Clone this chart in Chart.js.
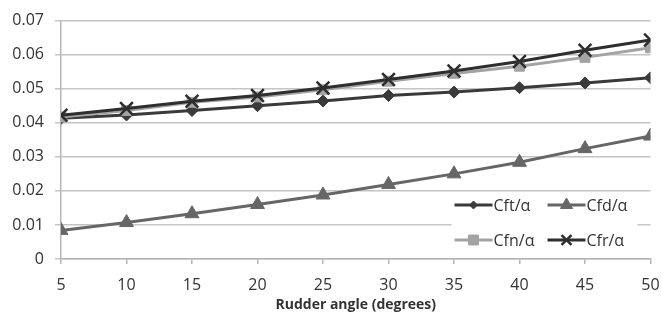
<!DOCTYPE html>
<html>
<head>
<meta charset="utf-8">
<script src="https://cdn.jsdelivr.net/npm/chart.js@4.4.1/dist/chart.umd.min.js"></script>
<style>
    html, body { margin: 0; padding: 0; background: #fff; }
    #wrap { width: 662px; height: 329px; }
</style>
</head>
<body>
<div id="wrap"><canvas id="rudderChart"></canvas></div>
<script>
// Rudder angle (degrees)
const angles = [5, 10, 15, 20, 25, 30, 35, 40, 45, 50];

// Force coefficients per unit angle
const cft = [0.0413, 0.0423, 0.0436, 0.0450, 0.0464, 0.0480, 0.0490, 0.0503, 0.0517, 0.0532];
const cfd = [0.0084, 0.0107, 0.0133, 0.0160, 0.0188, 0.0219, 0.0250, 0.0284, 0.0324, 0.0361];
const cfn = [0.0417, 0.0436, 0.0460, 0.0476, 0.0497, 0.0522, 0.0545, 0.0566, 0.0592, 0.0620];
const cfr = [0.0422, 0.0442, 0.0463, 0.0480, 0.0502, 0.0527, 0.0552, 0.0580, 0.0613, 0.0643];

const seriesLabels = ['Cft/\u03b1', 'Cfd/\u03b1', 'Cfn/\u03b1', 'Cfr/\u03b1'];

const FONT = '"Open Sans", "DejaVu Sans", sans-serif';

function toPoints(values) {
    return angles.map((a, i) => ({ x: a, y: values[i] }));
}

// Legend drawn inside the plot, bottom right, 2 x 2
const innerLegend = {
    id: 'innerLegend',
    afterDraw(chart) {
        const { ctx, chartArea } = chart;
        const boxX = chartArea.right - 199;
        const boxY = chartArea.bottom - 67;
        ctx.save();
        ctx.fillStyle = '#ffffff';
        ctx.fillRect(boxX, boxY, 186, 64);

        const cols = [3, 96];
        const rows = [13, 48];
        ctx.textBaseline = 'middle';
        ctx.textAlign = 'left';

        chart.data.datasets.forEach((ds, i) => {
            const x = boxX + cols[i % 2];
            const y = boxY + rows[Math.floor(i / 2)];
            ctx.strokeStyle = ds.borderColor;
            ctx.fillStyle = ds.borderColor;
            ctx.lineWidth = ds.borderWidth;
            ctx.beginPath();
            ctx.moveTo(x, y);
            ctx.lineTo(x + 38, y);
            ctx.stroke();
            ctx.lineWidth = ds.pointBorderWidth;
            Chart.helpers.drawPoint(ctx, {
                pointStyle: ds.pointStyle,
                radius: ds.legendRadius,
                borderWidth: ds.pointBorderWidth
            }, x + 19, y);
            ctx.font = '16px ' + FONT;
            ctx.fillStyle = '#333333';
            ctx.fillText(ds.label, x + 39, y + 1);
        });
        ctx.restore();
    }
};

function makeSet(label, values, color, style, radius, legendRadius, order) {
    return {
        label: label,
        data: toPoints(values),
        borderColor: color,
        backgroundColor: color,
        pointBackgroundColor: color,
        pointBorderColor: color,
        borderWidth: 3,
        pointStyle: style,
        pointRadius: radius,
        pointBorderWidth: style === 'crossRot' ? 2.5 : 1,
        legendRadius: legendRadius,
        tension: 0,
        order: order
    };
}

const ctx = document.getElementById('rudderChart').getContext('2d');
const rudderChart = new Chart(ctx, {
    type: 'line',
    data: {
        datasets: [
            makeSet(seriesLabels[0], cft, '#3a3a3a', 'rectRot', 6, 4, 3),
            makeSet(seriesLabels[1], cfd, '#666666', 'triangle', 8, 7, 2),
            makeSet(seriesLabels[2], cfn, '#a3a3a3', 'rect', 7, 7, 1),
            makeSet(seriesLabels[3], cfr, '#2e2e2e', 'crossRot', 9, 7, 0)
        ]
    },
    options: {
        responsive: true,
        maintainAspectRatio: false,
        animation: false,
        layout: {
            padding: { top: 15, right: 0, left: 0, bottom: 0 }
        },
        plugins: {
            legend: { display: false },
            tooltip: { enabled: false }
        },
        scales: {
            x: {
                type: 'linear',
                min: 5,
                max: 50,
                afterFit(scale) {
                    scale.height = 70;
                    scale.paddingRight = 11;
                },
                grid: {
                    drawOnChartArea: false,
                    drawTicks: true,
                    tickLength: 5,
                    color: '#b5b5b5',
                    lineWidth: 1.5
                },
                border: { color: '#b5b5b5', width: 1.5 },
                ticks: {
                    stepSize: 5,
                    padding: 12,
                    color: '#333333',
                    font: { family: FONT, size: 16 }
                },
                title: {
                    display: true,
                    text: 'Rudder angle (degrees)',
                    color: '#333333',
                    font: { family: FONT, size: 14, weight: 'bold' },
                    padding: { top: 0, bottom: 16 }
                }
            },
            y: {
                min: 0,
                max: 0.07,
                afterFit(scale) { scale.width = 61; },
                grid: {
                    color: '#c4c4c4',
                    lineWidth: 1.5,
                    drawTicks: true,
                    tickLength: 6
                },
                border: { color: '#b5b5b5', width: 1.5 },
                ticks: {
                    stepSize: 0.01,
                    padding: 11,
                    color: '#333333',
                    font: { family: FONT, size: 16 },
                    callback: function(value) {
                        return value === 0 ? '0' : value.toFixed(2);
                    }
                }
            }
        }
    },
    plugins: [innerLegend]
});
</script>
</body>
</html>
